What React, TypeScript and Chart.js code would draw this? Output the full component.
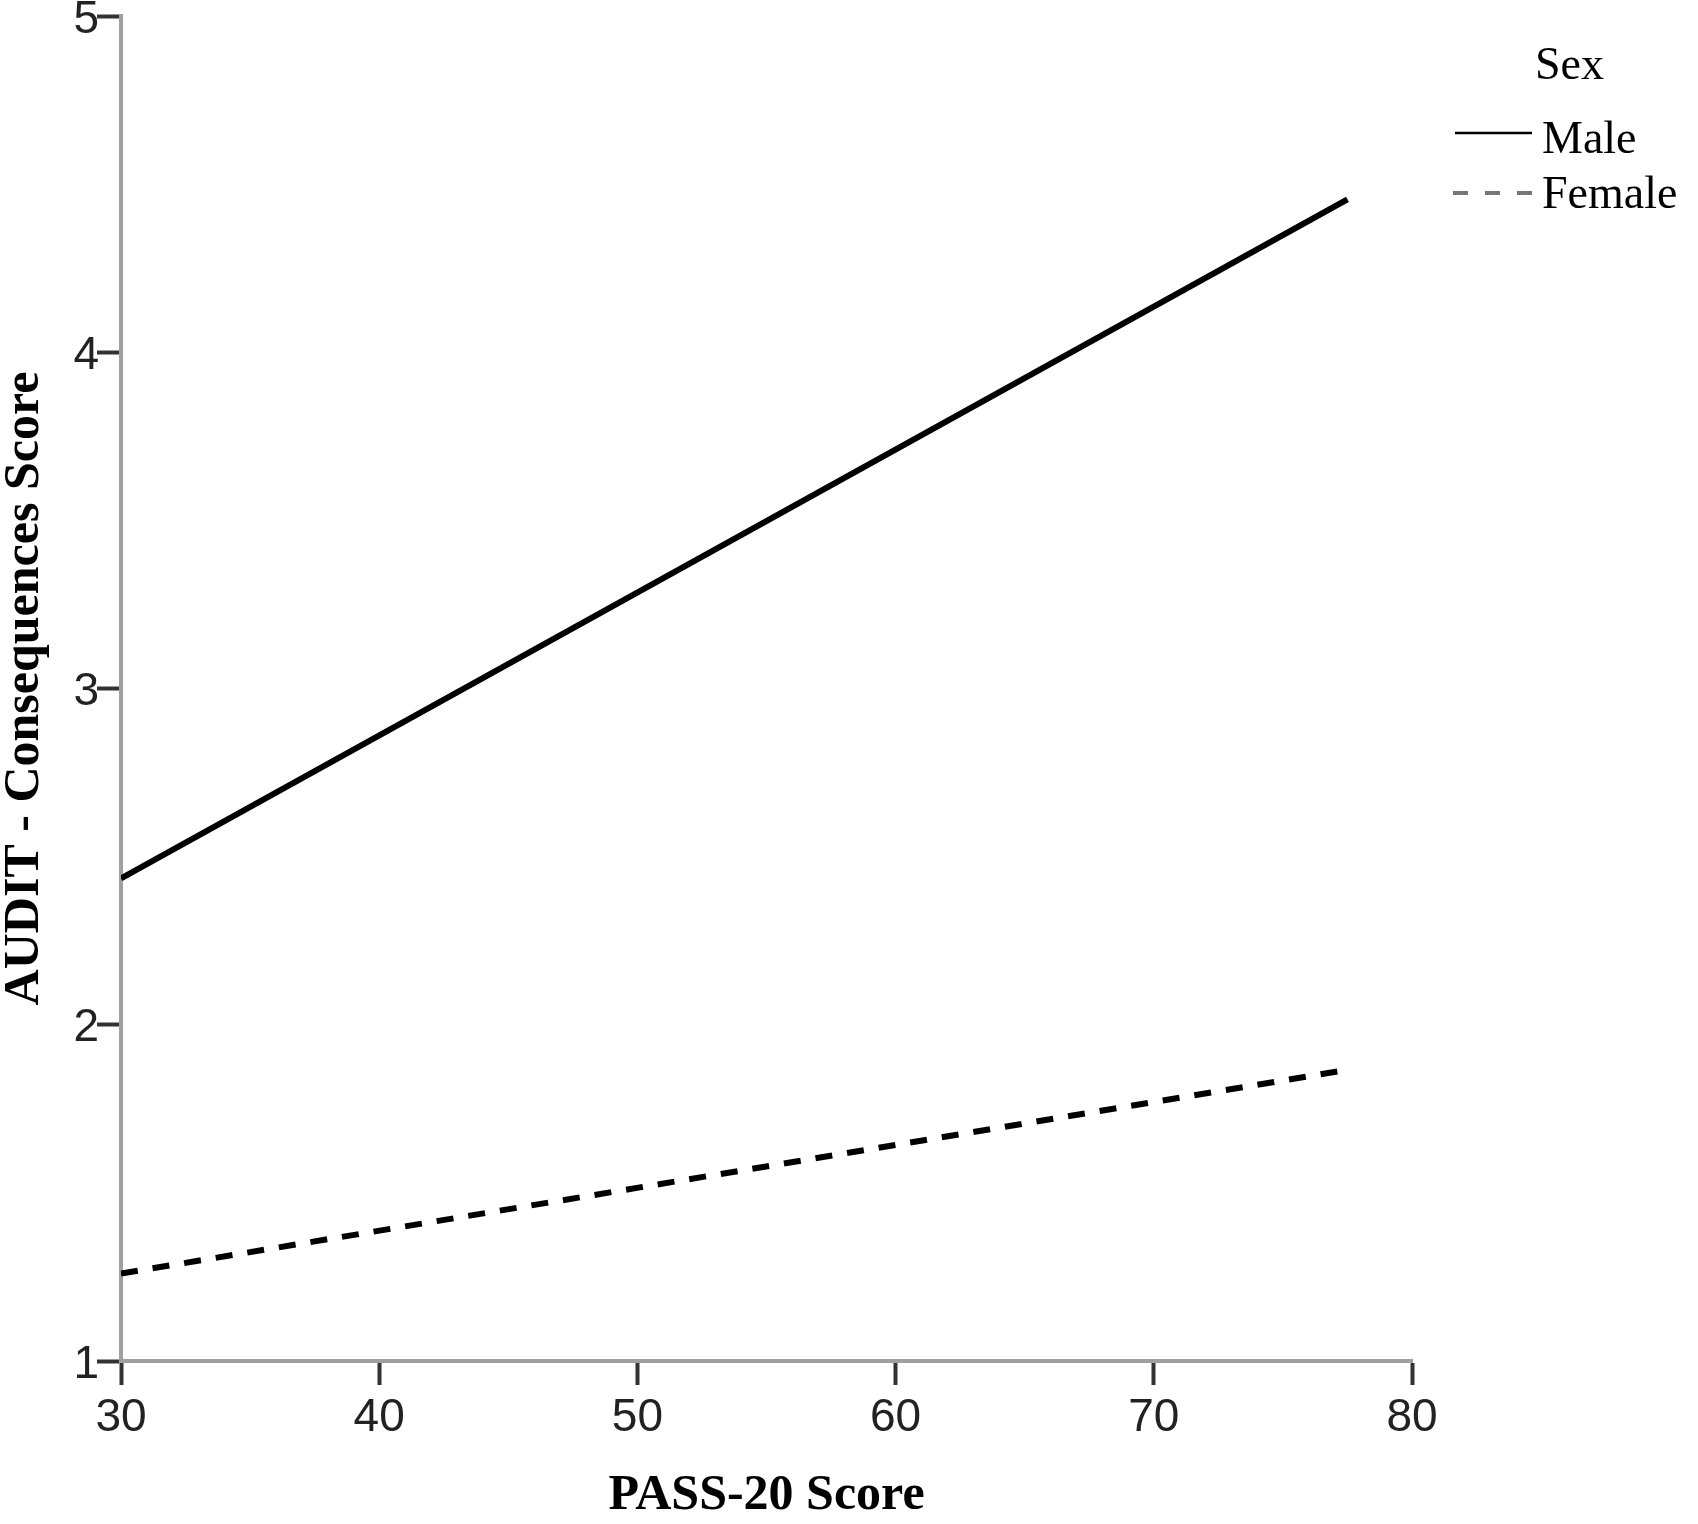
import React, { useEffect, useRef } from "react";
import { Chart, registerables } from "chart.js";

Chart.register(...registerables);

// ---- data ----
const maleX = [30, 77.5];
const maleY = [2.435, 4.455];
const femaleX = [30, 77.2];
const femaleY = [1.26, 1.862];
const xTickValues = [30, 40, 50, 60, 70, 80];
const yTickValues = [1, 2, 3, 4, 5];
const seriesNames = ["Male", "Female"];
const legendTitle = "Sex";
const xTitle = "PASS-20 Score";
const yTitle = "AUDIT - Consequences Score";

const SERIF = "'Liberation Serif', 'Times New Roman', serif";
const SANS = "'Liberation Sans', Arial, sans-serif";

const legendPlugin = {
  id: "sexLegend",
  afterDraw(chart: any) {
    const ctx = chart.ctx as CanvasRenderingContext2D;
    ctx.save();
    ctx.fillStyle = "#000";
    ctx.font = `46px ${SERIF}`;
    ctx.textAlign = "left";
    ctx.textBaseline = "alphabetic";
    ctx.fillText(legendTitle, 1535, 79);
    // male
    ctx.strokeStyle = "#000";
    ctx.lineWidth = 2.5;
    ctx.setLineDash([]);
    ctx.beginPath();
    ctx.moveTo(1455, 133);
    ctx.lineTo(1532, 133);
    ctx.stroke();
    ctx.fillText(seriesNames[0], 1542, 153);
    // female
    ctx.strokeStyle = "#777";
    ctx.lineWidth = 4;
    ctx.setLineDash([15, 17]);
    ctx.beginPath();
    ctx.moveTo(1453, 193);
    ctx.lineTo(1532, 193);
    ctx.stroke();
    ctx.setLineDash([]);
    ctx.fillText(seriesNames[1], 1542, 208);
    ctx.restore();
  },
};

export default function App() {
  const ref = useRef<HTMLCanvasElement | null>(null);
  useEffect(() => {
    if (!ref.current) return;
    const chart = new Chart(ref.current, {
      type: "line",
      data: {
        datasets: [
          {
            label: seriesNames[0],
            data: maleX.map((x, i) => ({ x, y: maleY[i] })),
            borderColor: "#000",
            borderWidth: 6,
            pointRadius: 0,
            tension: 0,
            borderCapStyle: "butt",
            fill: false,
          },
          {
            label: seriesNames[1],
            data: femaleX.map((x, i) => ({ x, y: femaleY[i] })),
            borderColor: "#000",
            borderWidth: 6,
            borderDash: [17, 15],
            pointRadius: 0,
            tension: 0,
            borderCapStyle: "butt",
            fill: false,
          },
        ],
      },
      options: {
        responsive: false,
        animation: false,
        events: [],
        layout: { padding: { left: 0, top: 16, right: 286, bottom: 0 } },
        plugins: { legend: { display: false }, tooltip: { enabled: false } },
        scales: {
          x: {
            type: "linear",
            min: 30,
            max: 80,
            afterBuildTicks: (s: any) => {
              s.ticks = xTickValues.map((v) => ({ value: v }));
            },
            afterFit: (s: any) => {
              s.height = 163;
              s.paddingLeft = 0;
              s.paddingRight = 0;
            },
            grid: {
              display: true,
              drawOnChartArea: false,
              drawTicks: true,
              tickLength: 24,
              tickWidth: 4,
              tickColor: "#333",
            },
            border: { display: true, color: "#a0a0a0", width: 4 },
            ticks: {
              color: "#222",
              padding: 6,
              font: { family: SANS, size: 46 },
            },
            title: {
              display: true,
              text: xTitle,
              color: "#000",
              font: { family: SERIF, size: 50, weight: "bold", lineHeight: 1 },
              padding: { top: 0, bottom: 3 },
            },
          },
          y: {
            type: "linear",
            min: 1,
            max: 5,
            afterBuildTicks: (s: any) => {
              s.ticks = yTickValues.map((v) => ({ value: v }));
            },
            afterFit: (s: any) => {
              s.width = 121;
              s.paddingTop = 0;
              s.paddingBottom = 0;
            },
            grid: {
              display: true,
              drawOnChartArea: false,
              drawTicks: true,
              tickLength: 24,
              tickWidth: 4,
              tickColor: "#333",
            },
            border: { display: true, color: "#a0a0a0", width: 4 },
            ticks: {
              color: "#222",
              padding: -2,
              labelOffset: 4,
              font: { family: SANS, size: 46 },
            },
            title: {
              display: true,
              text: yTitle,
              color: "#000",
              font: { family: SERIF, size: 50, weight: "bold", lineHeight: 1 },
              padding: { top: 0, bottom: 0 },
            },
          },
        },
      } as any,
      plugins: [legendPlugin],
    });
    return () => chart.destroy();
  }, []);
  return (
    <div style={{ position: "fixed", left: 0, top: 0, width: 1698, height: 1524, background: "#fff" }}>
      <canvas ref={ref} width={1698} height={1524} style={{ width: 1698, height: 1524, display: "block" }} />
    </div>
  );
}
